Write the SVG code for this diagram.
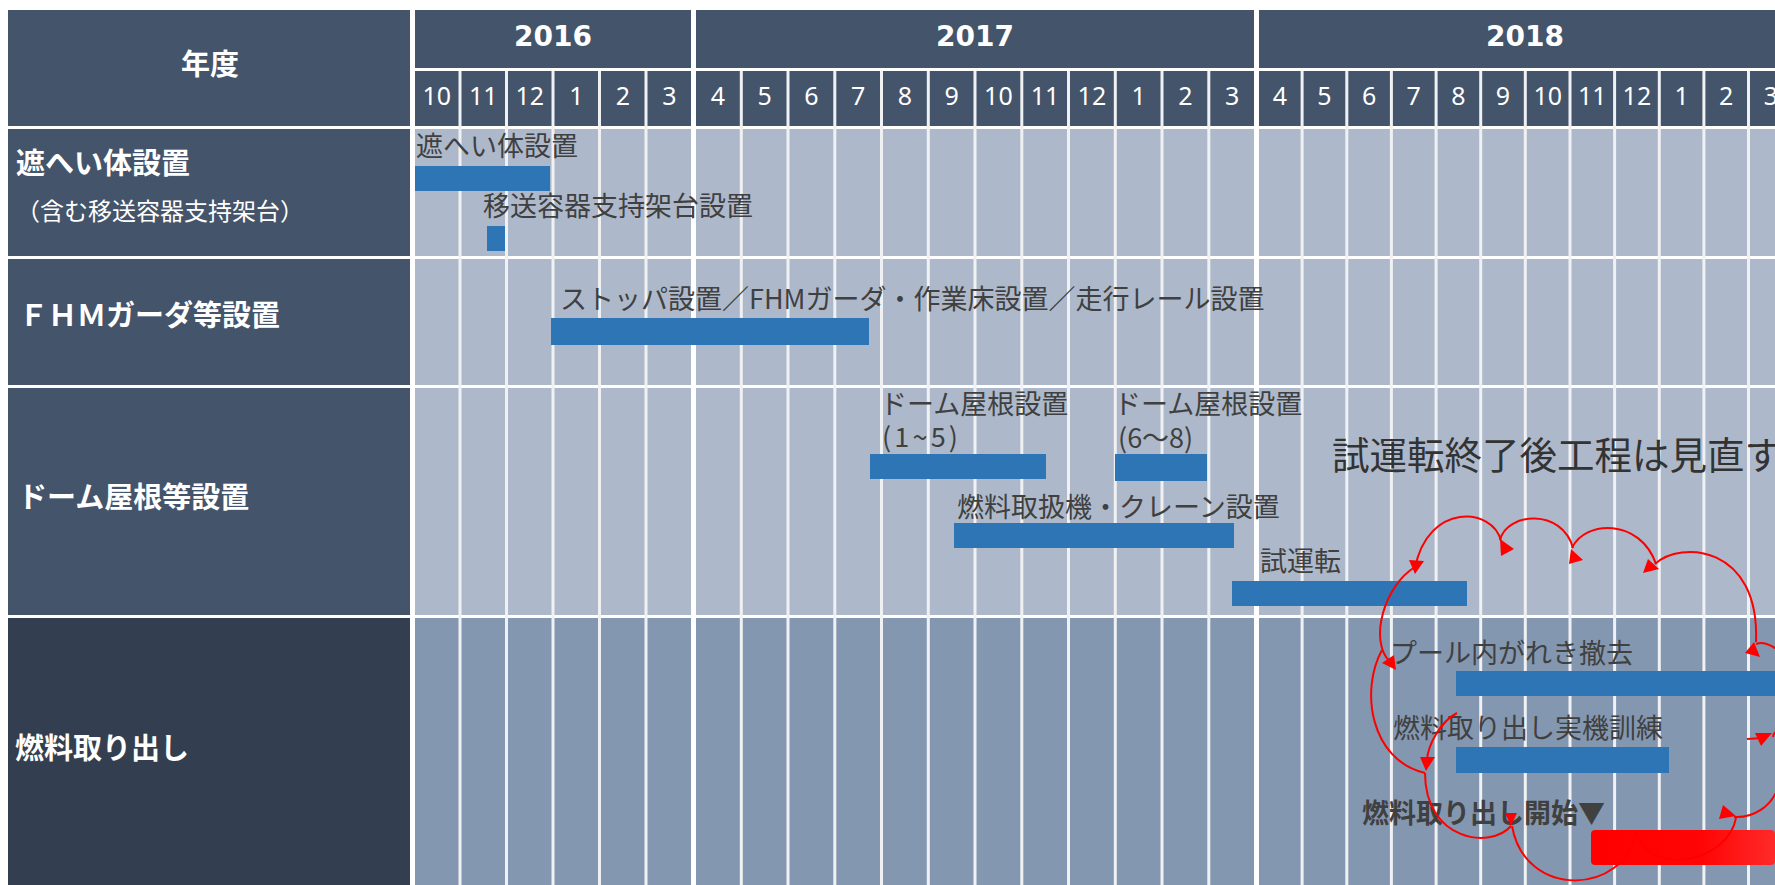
<svg xmlns="http://www.w3.org/2000/svg" width="1775" height="885" viewBox="0 0 1775 885">
<defs>
<style>
.hd{fill:#44546A}
.lc{fill:#44546A}
.lc4{fill:#333F50}
.bl{fill:#ADB9CA}
.bd{fill:#8497B0}
.gap{fill:#F0F1F3}
.bar{fill:#2E75B6}
.yr{font-family:'DejaVu Sans',sans-serif;font-weight:bold;font-size:28px;fill:#fff;text-anchor:middle}
.mo{font-family:'Noto Sans',sans-serif;font-size:25px;fill:#fff;text-anchor:middle}
.lab{font-family:'Noto Sans CJK JP',sans-serif;font-weight:bold;font-size:29px;fill:#fff}
.sub{font-family:'Noto Sans CJK JP',sans-serif;font-size:24px;fill:#fff}
.tx{font-family:'Noto Sans CJK JP',sans-serif;font-size:27px;fill:#404040}
.txb{font-family:'Noto Sans CJK JP',sans-serif;font-size:27px;font-weight:bold;fill:#404040}
.big{font-family:'Noto Sans CJK JP',sans-serif;font-size:37.5px;fill:#333}
.arc{fill:none;stroke:#FF0000;stroke-width:2}
.ah{fill:#FF0000}
</style>
<linearGradient id="redg" x1="0" y1="0" x2="1" y2="0">
<stop offset="0" stop-color="#FF0000"/>
<stop offset="0.6" stop-color="#FF0505"/>
<stop offset="1" stop-color="#FF2A2A"/>
</linearGradient>
</defs>
<rect x="0" y="0" width="1775" height="885" fill="#fff"/>

<g id="grid">
<rect class="hd" x="415" y="71" width="1360" height="55"/>
<rect class="bl" x="415" y="129" width="1360" height="127"/>
<rect class="bl" x="415" y="259" width="1360" height="126"/>
<rect class="bl" x="415" y="388" width="1360" height="227"/>
<rect class="bd" x="415" y="618" width="1360" height="267"/>
<g id="col-gaps">
<rect class="gap" x="458.5" y="71" width="3" height="814"/>
<rect class="gap" x="505" y="71" width="3" height="814"/>
<rect class="gap" x="551.5" y="71" width="3" height="814"/>
<rect class="gap" x="598" y="71" width="3" height="814"/>
<rect class="gap" x="644.5" y="71" width="3" height="814"/>
<rect fill="#fff" x="691" y="71" width="5" height="814"/>
<rect class="gap" x="739.8" y="71" width="3" height="814"/>
<rect class="gap" x="786.5" y="71" width="3" height="814"/>
<rect class="gap" x="833.3" y="71" width="3" height="814"/>
<rect class="gap" x="880" y="71" width="3" height="814"/>
<rect class="gap" x="926.8" y="71" width="3" height="814"/>
<rect class="gap" x="973.5" y="71" width="3" height="814"/>
<rect class="gap" x="1020.3" y="71" width="3" height="814"/>
<rect class="gap" x="1067" y="71" width="3" height="814"/>
<rect class="gap" x="1113.8" y="71" width="3" height="814"/>
<rect class="gap" x="1160.5" y="71" width="3" height="814"/>
<rect class="gap" x="1207.3" y="71" width="3" height="814"/>
<rect fill="#fff" x="1254" y="71" width="5" height="814"/>
<rect class="gap" x="1300.6" y="71" width="3" height="814"/>
<rect class="gap" x="1345.3" y="71" width="3" height="814"/>
<rect class="gap" x="1389.9" y="71" width="3" height="814"/>
<rect class="gap" x="1434.6" y="71" width="3" height="814"/>
<rect class="gap" x="1479.2" y="71" width="3" height="814"/>
<rect class="gap" x="1523.8" y="71" width="3" height="814"/>
<rect class="gap" x="1568.5" y="71" width="3" height="814"/>
<rect class="gap" x="1613.1" y="71" width="3" height="814"/>
<rect class="gap" x="1657.8" y="71" width="3" height="814"/>
<rect class="gap" x="1702.4" y="71" width="3" height="814"/>
<rect class="gap" x="1747" y="71" width="3" height="814"/>
</g>
</g>

<g id="header-year-label">
<rect class="hd" x="8" y="10" width="402" height="116"/>
<text class="lab" x="210" y="75" text-anchor="middle" font-size="27">年度</text>
</g>
<g id="year-2016">
<rect class="hd" x="415" y="10" width="276" height="58"/>
<text class="yr" x="553" y="46">2016</text>
</g>
<g id="year-2017">
<rect class="hd" x="696" y="10" width="558" height="58"/>
<text class="yr" x="975" y="46">2017</text>
</g>
<g id="year-2018">
<rect class="hd" x="1259" y="10" width="532" height="58"/>
<text class="yr" x="1525" y="46">2018</text>
</g>

<g id="months">
<text class="mo" x="436.8" y="105">10</text>
<text class="mo" x="483.3" y="105">11</text>
<text class="mo" x="529.8" y="105">12</text>
<text class="mo" x="576.3" y="105">1</text>
<text class="mo" x="622.8" y="105">2</text>
<text class="mo" x="669.3" y="105">3</text>
<text class="mo" x="717.9" y="105">4</text>
<text class="mo" x="764.6" y="105">5</text>
<text class="mo" x="811.4" y="105">6</text>
<text class="mo" x="858.1" y="105">7</text>
<text class="mo" x="904.9" y="105">8</text>
<text class="mo" x="951.6" y="105">9</text>
<text class="mo" x="998.4" y="105">10</text>
<text class="mo" x="1045.1" y="105">11</text>
<text class="mo" x="1091.9" y="105">12</text>
<text class="mo" x="1138.6" y="105">1</text>
<text class="mo" x="1185.4" y="105">2</text>
<text class="mo" x="1232.1" y="105">3</text>
<text class="mo" x="1279.8" y="105">4</text>
<text class="mo" x="1324.5" y="105">5</text>
<text class="mo" x="1369.1" y="105">6</text>
<text class="mo" x="1413.7" y="105">7</text>
<text class="mo" x="1458.4" y="105">8</text>
<text class="mo" x="1503" y="105">9</text>
<text class="mo" x="1547.7" y="105">10</text>
<text class="mo" x="1592.3" y="105">11</text>
<text class="mo" x="1636.9" y="105">12</text>
<text class="mo" x="1681.6" y="105">1</text>
<text class="mo" x="1726.2" y="105">2</text>
<text class="mo" x="1770.8" y="105">3</text>
</g>

<g id="row-shield">
<rect class="lc" x="8" y="129" width="402" height="127"/>
<text class="lab" x="16" y="174">遮へい体設置</text>
<text class="sub" x="16" y="220">（含む移送容器支持架台）</text>
</g>
<g id="row-fhm">
<rect class="lc" x="8" y="259" width="402" height="126"/>
<text class="lab" x="19" y="326">ＦＨＭガーダ等設置</text>
</g>
<g id="row-dome">
<rect class="lc" x="8" y="388" width="402" height="227"/>
<text class="lab" x="18" y="508">ドーム屋根等設置</text>
</g>
<g id="row-fuel">
<rect class="lc4" x="8" y="618" width="402" height="267"/>
<text class="lab" x="15" y="759">燃料取り出し</text>
</g>

<g id="task-shield">
<text class="tx" x="416" y="156">遮へい体設置</text>
<rect class="bar" x="415" y="166" width="135" height="25"/>
</g>
<g id="task-support">
<text class="tx" x="483" y="216">移送容器支持架台設置</text>
<rect class="bar" x="487" y="226" width="18" height="25"/>
</g>
<g id="task-fhm">
<text class="tx" x="560" y="309">ストッパ設置／FHMガーダ・作業床設置／走行レール設置</text>
<rect class="bar" x="551" y="318" width="318" height="27"/>
</g>
<g id="task-dome1">
<text class="tx" x="880" y="414">ドーム屋根設置</text>
<text class="tx" x="882" y="447" textLength="76" lengthAdjust="spacing">(1~5)</text>
<rect class="bar" x="870" y="454" width="176" height="25"/>
</g>
<g id="task-dome2">
<text class="tx" x="1114" y="414">ドーム屋根設置</text>
<text class="tx" x="1118" y="448">(6～8)</text>
<rect class="bar" x="1115" y="454" width="92" height="27"/>
</g>
<g id="task-crane">
<text class="tx" x="957" y="517">燃料取扱機・クレーン設置</text>
<rect class="bar" x="954" y="523" width="280" height="25"/>
</g>
<g id="task-trial">
<text class="tx" x="1260" y="571">試運転</text>
<rect class="bar" x="1232" y="581" width="235" height="25"/>
</g>
<g id="note-review">
<text class="big" x="1332" y="469">試運転終了後工程は見直す</text>
</g>
<g id="task-debris">
<text class="tx" x="1390" y="663">プール内がれき撤去</text>
<rect class="bar" x="1456" y="671" width="319" height="25"/>
</g>
<g id="task-training">
<text class="tx" x="1393" y="738">燃料取り出し実機訓練</text>
<rect class="bar" x="1456" y="747" width="213" height="26"/>
</g>
<g id="task-start">
<text class="txb" x="1362" y="823">燃料取り出し開始▼</text>
<rect x="1591" y="830" width="184" height="35" rx="4" fill="url(#redg)"/>
</g>

<g id="connectors">
<path class="arc" d="M1415,568 C1428,502 1493,507 1501,541"/>
<path class="arc" d="M1500,540 C1507,512 1562,508 1573,548"/>
<path class="arc" d="M1572,548 C1585,520 1640,518 1656,564"/>
<path class="arc" d="M1655,564 C1680,540 1760,545 1756,642"/>
<path class="arc" d="M1756,644 C1765,640 1780,648 1790,665"/>
<path class="arc" d="M1747,739 L1762,738"/>
<path class="arc" d="M1773,737 C1774,731 1780,728 1790,729"/>
<path class="arc" d="M1780,782 C1773,808 1752,818 1734,817"/>
<path class="arc" d="M1736,818 C1728,862 1650,878 1636,832"/>
<path class="arc" d="M1636,832 C1625,895 1525,900 1512,826"/>
<path class="arc" d="M1425,773 C1425,840 1490,850 1511,826"/>
<path class="arc" d="M1457,713 C1440,722 1428,745 1427,760"/>
<path class="arc" d="M1382,650 C1360,690 1370,760 1425,773"/>
<path class="arc" d="M1415,567 C1385,585 1368,640 1390,662"/>
<polygon class="ah" points="1409,560 1424,561 1415,574"/>
<polygon class="ah" points="1500,539 1514,549 1501,556"/>
<polygon class="ah" points="1571,549 1583,560 1569,564"/>
<polygon class="ah" points="1648,559 1659,569 1643,573"/>
<polygon class="ah" points="1745,653 1754,642 1760,657"/>
<polygon class="ah" points="1382,663 1394,655 1396,670"/>
<polygon class="ah" points="1420,757 1435,757 1426,771"/>
<polygon class="ah" points="1505,813 1517,813 1511,826"/>
<polygon class="ah" points="1723,805 1736,816 1719,819"/>
<polygon class="ah" points="1755,733 1772,733 1761,746"/>
</g>
</svg>
